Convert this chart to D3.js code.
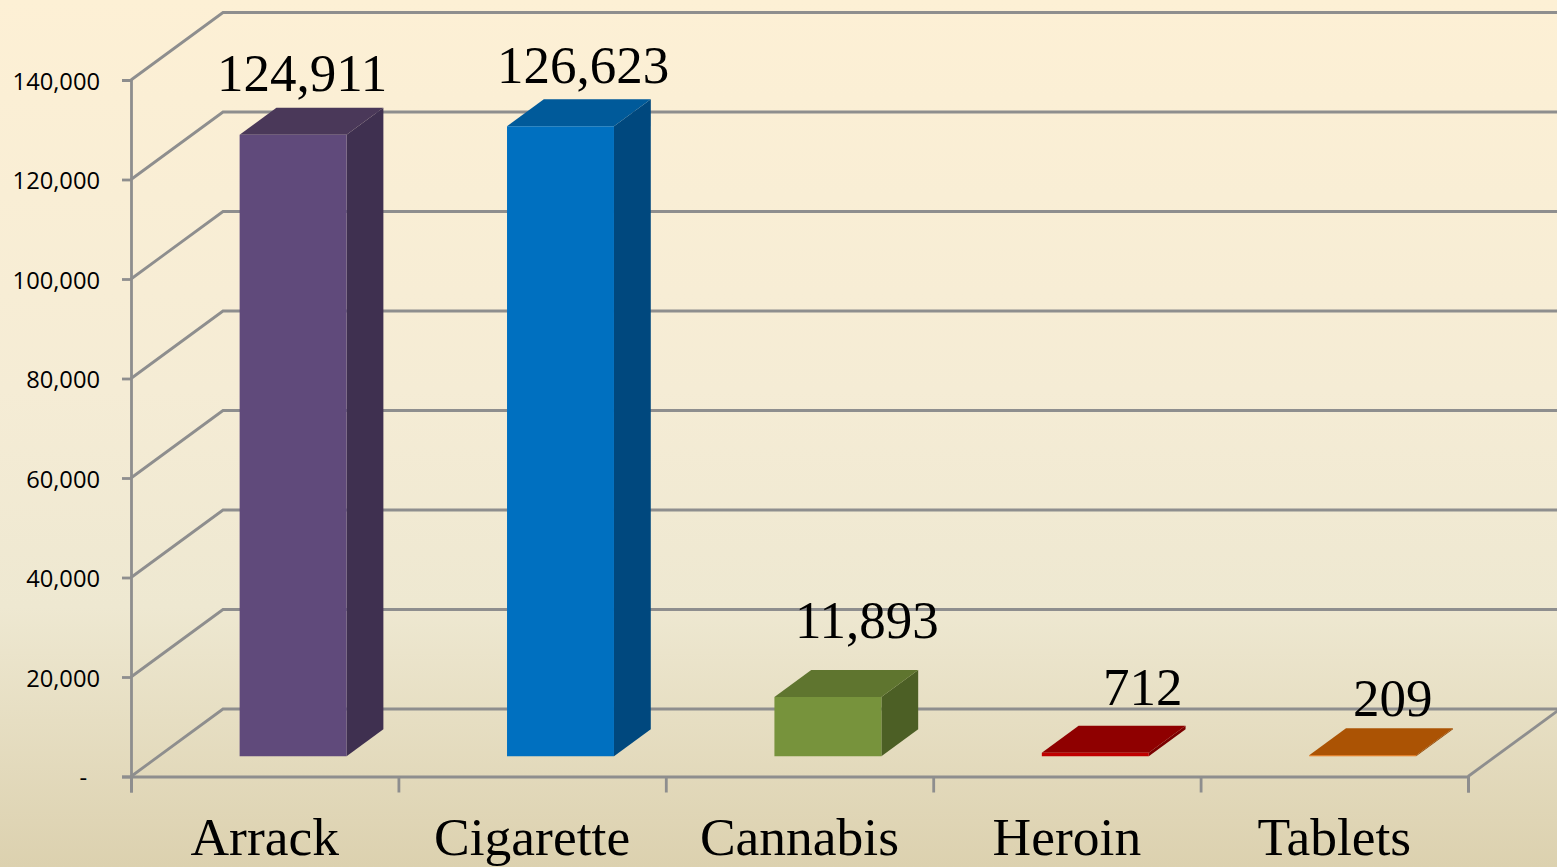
<!DOCTYPE html>
<html>
<head>
<meta charset="utf-8">
<script src="https://cdn.jsdelivr.net/npm/d3@7"></script>
<style>
  html, body { margin: 0; padding: 0; background: #fdf0d5; }
  svg { display: block; }
  .yAxis text { font-family: "Open Sans", sans-serif; font-size: 23.7px; fill: #000; }
  .catAxis text { font-family: "Liberation Serif", serif; font-size: 53.5px; fill: #000; }
  .valueLabel { font-family: "Liberation Serif", serif; font-size: 53px; fill: #000; }
</style>
</head>
<body>
<div id="chart"></div>
<script>
const categories = ["Arrack", "Cigarette", "Cannabis", "Heroin", "Tablets"];
const values = [124911, 126623, 11893, 712, 209];
const yTicks = [0, 20000, 40000, 60000, 80000, 100000, 120000, 140000];

const WIDTH = 1557;
const HEIGHT = 867;
const LEFT = 131;
const RIGHT = 1468;
const BASE_Y = 776.5;
const TOP_Y = 80;
const DEPTH_X = 92;
const DEPTH_Y = 67.5;
const GRID = "#8e8e8e";

// bar faces: front, top, side
const barColors = [
  ["#604a7b", "#4a3859", "#3f3050"],
  ["#0070c0", "#005a9a", "#00487e"],
  ["#77933c", "#5f752f", "#4c5f25"],
  ["#c00000", "#8f0000", "#7a0000"],
  ["#e36c0a", "#ab5304", "#8f4400"]
];
// the labels were dragged by hand in the original, so each has its own nudge
const labelNudge = [[9, -16.5], [22.5, -16], [39, -32.5], [47.5, -20.5], [30, -12.5]];

var translate = function (x, y) {
  return "translate(" + x + "," + y + ")";
};

var svg = d3.select("#chart").append("svg")
  .attr("width", WIDTH)
  .attr("height", HEIGHT);

var grad = svg.append("defs").append("linearGradient")
  .attr("id", "bg")
  .attr("x1", 0).attr("x2", 0).attr("y1", 0).attr("y2", 1);
grad.append("stop").attr("offset", "0").attr("stop-color", "#fdf0d5");
grad.append("stop").attr("offset", "0.45").attr("stop-color", "#f5ecd5");
grad.append("stop").attr("offset", "0.7").attr("stop-color", "#eee8d1");
grad.append("stop").attr("offset", "1").attr("stop-color", "#dcd1af");

svg.append("rect")
  .attr("width", WIDTH)
  .attr("height", HEIGHT)
  .attr("fill", "url(#bg)");

var yScale = d3.scaleLinear().domain([0, 140000]).range([BASE_Y, TOP_Y]);
var xScale = d3.scaleBand().domain(categories).range([LEFT, RIGHT]);
var edgeScale = d3.scaleLinear().domain([0, categories.length]).range([LEFT, RIGHT]);

var band = xScale.bandwidth();
var barWidth = band * 0.4;

// depth runs 0 (front of floor) to 1 (back wall)
var project = function (x, y, depth) {
  return [x + depth * DEPTH_X, y - depth * DEPTH_Y];
};

// back wall lines and side wall diagonals
var grid = svg.append("g")
  .attr("fill", "none")
  .attr("stroke", GRID)
  .attr("stroke-width", 2.8);

grid.selectAll("path")
  .data(yTicks)
  .enter()
  .append("path")
  .attr("d", function (d) {
    var back = project(LEFT, yScale(d), 1);
    return d3.line()([[LEFT, yScale(d)], back, [WIDTH, back[1]]]);
  });

// floor edge on the right
grid.append("line")
  .attr("x1", RIGHT)
  .attr("y1", BASE_Y)
  .attr("x2", project(RIGHT, BASE_Y, 1)[0])
  .attr("y2", project(RIGHT, BASE_Y, 1)[1]);

var yAxis = d3.axisLeft(yScale)
  .tickValues(yTicks)
  .tickSize(9)
  .tickPadding(22)
  .tickFormat(function (d) { return d === 0 ? "-" : d3.format(",")(d); });

var yG = svg.append("g")
  .attr("transform", translate(LEFT, 0))
  .classed("yAxis", true)
  .call(yAxis);
yG.selectAll("path, line").attr("stroke", GRID).attr("stroke-width", 2.8);
yG.selectAll("text").attr("dy", "0.38em");
yG.selectAll(".tick").filter(function (d) { return d === 0; })
  .select("text").attr("dx", -13);

var edgeAxis = d3.axisBottom(edgeScale)
  .tickValues(d3.range(categories.length + 1))
  .tickSize(16)
  .tickFormat("");

var edgeG = svg.append("g")
  .attr("transform", translate(0, BASE_Y))
  .call(edgeAxis);
edgeG.selectAll("path, line").attr("stroke", GRID).attr("stroke-width", 2.8);

var catAxis = d3.axisBottom(xScale).tickSize(0).tickPadding(41);
var catG = svg.append("g")
  .attr("transform", translate(0, BASE_Y))
  .classed("catAxis", true)
  .call(catAxis);
catG.select(".domain").remove();

// bars sit from depth .3 to .7 on the floor
var barBase = function (i) { return xScale(categories[i]) + band * 0.303; };

var poly = function (pts) { return d3.line()(pts) + "Z"; };

var bars = svg.selectAll(".bar")
  .data(values)
  .enter()
  .append("g")
  .classed("bar", true);

bars.append("path")
  .attr("fill", function (d, i) { return barColors[i][2]; })
  .attr("d", function (d, i) {
    var x = barBase(i) + barWidth;
    return poly([
      project(x, BASE_Y, 0.3), project(x, BASE_Y, 0.7),
      project(x, yScale(d), 0.7), project(x, yScale(d), 0.3)
    ]);
  });

bars.append("path")
  .attr("fill", function (d, i) { return barColors[i][1]; })
  .attr("d", function (d, i) {
    var x = barBase(i), y = yScale(d);
    return poly([
      project(x, y, 0.3), project(x + barWidth, y, 0.3),
      project(x + barWidth, y, 0.7), project(x, y, 0.7)
    ]);
  });

bars.append("path")
  .attr("fill", function (d, i) { return barColors[i][0]; })
  .attr("d", function (d, i) {
    var x = barBase(i);
    return poly([
      project(x, BASE_Y, 0.3), project(x + barWidth, BASE_Y, 0.3),
      project(x + barWidth, yScale(d), 0.3), project(x, yScale(d), 0.3)
    ]);
  });

svg.selectAll(".valueLabel")
  .data(values)
  .enter()
  .append("text")
  .classed("valueLabel", true)
  .attr("text-anchor", "middle")
  .attr("x", function (d, i) {
    return project(barBase(i) + barWidth / 2, 0, 0.3)[0] + labelNudge[i][0];
  })
  .attr("y", function (d, i) {
    return project(0, yScale(d), 0.7)[1] + labelNudge[i][1];
  })
  .text(d3.format(","));
</script>
</body>
</html>
